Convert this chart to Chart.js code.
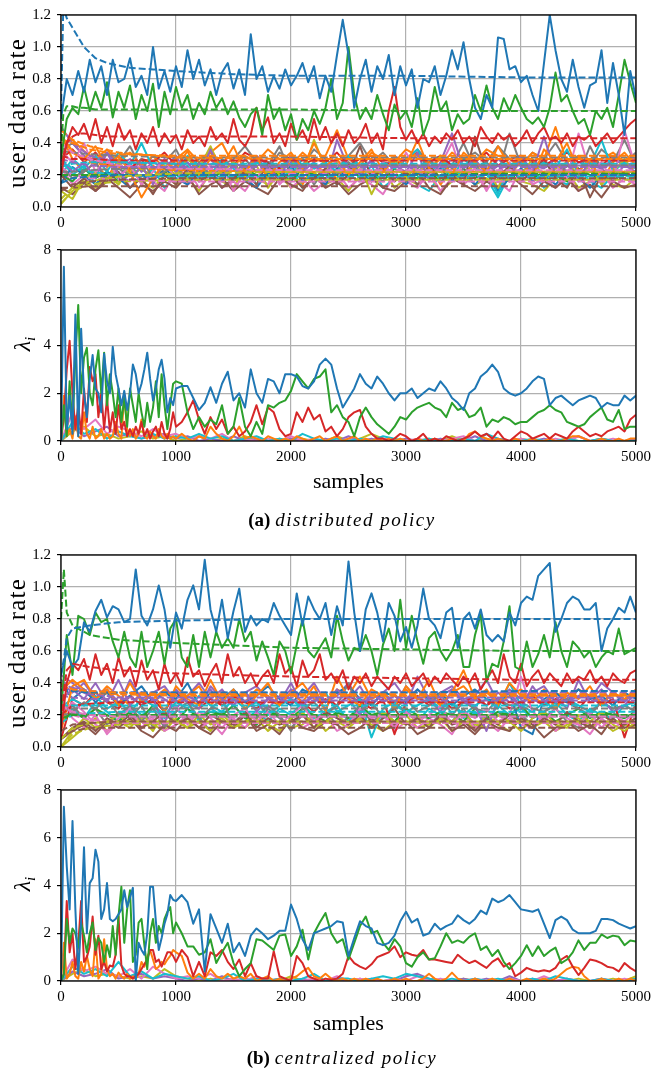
<!DOCTYPE html>
<html><head><meta charset="utf-8">
<script src="https://cdn.jsdelivr.net/npm/chart.js@4.4.0/dist/chart.umd.min.js"></script>
<style>
body{margin:0;background:#fff;width:665px;height:1070px;position:relative;overflow:hidden;font-family:"Liberation Serif",serif;color:#000}
.wrap{position:absolute;left:0;width:665px}
.yt{position:absolute;transform:translate(-50%,-50%) rotate(-90deg);white-space:nowrap;font-size:25px;line-height:1}
.yt.r{letter-spacing:1.2px}
.xt{position:absolute;left:0;width:697px;text-align:center;font-size:22px;line-height:24px}
.cap{position:absolute;left:0;width:684px;text-align:center;font-size:19px;line-height:22px}
.cap i{letter-spacing:1.5px}
</style></head><body>
<div class="wrap" style="top:0;height:235px"><canvas id="c1" width="665" height="235"></canvas></div>
<div class="wrap" style="top:235px;height:265px"><canvas id="c2" width="665" height="265"></canvas></div>
<div class="wrap" style="top:540px;height:235px"><canvas id="c3" width="665" height="235"></canvas></div>
<div class="wrap" style="top:775px;height:265px"><canvas id="c4" width="665" height="265"></canvas></div>
<div class="yt r" style="left:16px;top:113px">user data rate</div>
<div class="yt" style="left:24px;top:344px;font-size:24px"><i>λ</i><sub style="font-size:15px"><i>i</i></sub></div>
<div class="yt r" style="left:16px;top:653px">user data rate</div>
<div class="yt" style="left:24px;top:884px;font-size:24px"><i>λ</i><sub style="font-size:15px"><i>i</i></sub></div>
<div class="xt" style="top:469px">samples</div>
<div class="xt" style="top:1011px">samples</div>
<div class="cap" style="top:509px"><b>(a)</b> <i>distributed policy</i></div>
<div class="cap" style="top:1047px"><b>(b)</b> <i>centralized policy</i></div>
<script>
// ---------- axis ticks ----------
const X_TICKS = [0, 1000, 2000, 3000, 4000, 5000];
const RATE_TICKS = [0, 0.2, 0.4, 0.6, 0.8, 1.0, 1.2];
const LAMBDA_TICKS = [0, 2, 4, 6, 8];

// ---------- sample positions ----------
const X50 = Array.from({length: 101}, (_, i) => i * 50);
const X100 = Array.from({length: 51}, (_, i) => i * 100);
const XLAM = [...Array.from({length: 41}, (_, i) => i * 25), ...Array.from({length: 80}, (_, i) => 1050 + i * 50)];
const XAVG = [0, 100, 250, 500, 1000, 2000, 3000, 4000, 5000];

// ================= (a) distributed: user data rate =================
const rateD_blue = [0.55,0.80,0.70,0.85,0.72,0.92,0.78,0.88,0.70,0.92, 0.78,0.80,0.93,0.75,0.82,0.70,1.00,0.74,0.85,0.72, 0.88,0.75,0.98,0.80,0.92,0.76,0.86,0.70,0.84,0.90, 0.74,0.86,0.70,1.08,0.80,0.88,0.72,0.82,0.74,0.86, 0.76,0.82,0.90,0.78,0.88,0.68,0.82,0.72,0.95,1.17, 0.95,0.62,0.80,0.92,0.72,0.88,0.80,0.95,0.70,0.88, 0.76,0.86,0.62,0.80,0.78,0.88,0.70,0.82,0.98,0.86, 1.03,0.80,0.62,0.55,0.70,0.62,1.06,1.05,0.86,0.88, 0.78,0.82,0.70,0.60,0.90,1.20,0.98,0.80,0.72,0.92, 0.75,0.62,0.76,0.78,0.98,0.65,0.90,0.70,0.45,0.85, 0.68];
const rateD_green = [0.30,0.55,0.62,0.58,0.75,0.60,0.72,0.62,0.78,0.56, 0.72,0.62,0.76,0.55,0.70,0.60,0.77,0.50,0.72,0.58, 0.75,0.62,0.70,0.55,0.65,0.58,0.72,0.62,0.68,0.58, 0.66,0.56,0.50,0.58,0.62,0.45,0.70,0.55,0.62,0.48, 0.58,0.42,0.55,0.48,0.60,0.52,0.62,0.80,0.55,0.65, 1.00,0.70,0.55,0.62,0.55,0.70,0.58,0.48,0.64,0.55, 0.60,0.50,0.68,0.45,0.55,0.75,0.60,0.66,0.48,0.58, 0.52,0.55,0.70,0.60,0.76,0.62,0.55,0.68,0.60,0.70, 0.62,0.55,0.52,0.56,0.50,0.62,0.84,0.66,0.70,0.60, 0.52,0.55,0.45,0.60,0.55,0.62,0.50,0.70,0.92,0.78, 0.65];
const rateD_red = [0.20,0.40,0.50,0.45,0.52,0.42,0.55,0.40,0.50,0.38, 0.52,0.42,0.48,0.36,0.46,0.40,0.50,0.38,0.46,0.40, 0.45,0.36,0.48,0.40,0.44,0.38,0.50,0.42,0.46,0.40, 0.55,0.42,0.38,0.45,0.62,0.48,0.56,0.40,0.46,0.38, 0.52,0.42,0.48,0.40,0.55,0.42,0.50,0.40,0.46,0.38, 0.48,0.40,0.44,0.52,0.40,0.46,0.36,0.60,0.75,0.50, 0.42,0.48,0.40,0.46,0.38,0.44,0.40,0.46,0.42,0.48, 0.40,0.44,0.38,0.50,0.44,0.40,0.46,0.42,0.45,0.38, 0.42,0.48,0.40,0.46,0.50,0.42,0.44,0.40,0.46,0.38, 0.44,0.42,0.45,0.38,0.42,0.46,0.40,0.44,0.48,0.52, 0.55];
const avgD_mainX = [0,20,50,100,150,200,300,400,600,800,1000,1500,2000,3000,4000,5000];
const avgD_blue  = [0.60,1.25,1.18,1.12,1.06,1.00,0.93,0.90,0.87,0.86,0.85,0.83,0.82,0.82,0.81,0.81];
const avgD_green = [0.35,0.58,0.63,0.63,0.62,0.62,0.61,0.61,0.61,0.61,0.61,0.61,0.61,0.60,0.60,0.60];
const avgD_red   = [0.20,0.32,0.40,0.44,0.46,0.46,0.45,0.44,0.44,0.44,0.44,0.44,0.44,0.43,0.43,0.43];
// other users (every 100 samples)
const rateD_bg = [
 [0.45,0.35,0.30,0.38,0.25,0.32,0.22,0.06,0.18,0.28,0.24,0.35,0.20,0.30,0.26,0.38,0.22,0.32,0.18,0.28,0.34,0.24,0.40,0.26,0.30,0.20,0.28,0.36,0.22,0.30,0.26,0.42,0.24,0.30,0.20,0.34,0.28,0.22,0.38,0.26,0.30,0.18,0.36,0.28,0.40,0.22,0.30,0.16,0.28,0.34,0.26],
 [0.30,0.22,0.28,0.18,0.34,0.20,0.16,0.26,0.14,0.30,0.22,0.28,0.18,0.36,0.20,0.26,0.16,0.30,0.24,0.18,0.32,0.22,0.28,0.16,0.42,0.24,0.20,0.30,0.18,0.26,0.22,0.34,0.16,0.28,0.46,0.24,0.30,0.20,0.26,0.18,0.32,0.22,0.44,0.20,0.28,0.16,0.30,0.24,0.18,0.26,0.22],
 [0.20,0.12,0.18,0.10,0.16,0.22,0.12,0.18,0.08,0.20,0.14,0.24,0.16,0.20,0.12,0.18,0.22,0.14,0.28,0.16,0.20,0.12,0.18,0.24,0.14,0.20,0.38,0.18,0.24,0.16,0.22,0.14,0.26,0.18,0.20,0.14,0.44,0.22,0.18,0.26,0.16,0.22,0.30,0.18,0.12,0.24,0.06,0.20,0.16,0.22,0.18],
 [0.35,0.28,0.40,0.22,0.30,0.18,0.26,0.14,0.22,0.30,0.16,0.24,0.12,0.20,0.26,0.10,0.22,0.18,0.28,0.14,0.22,0.18,0.26,0.20,0.30,0.16,0.24,0.20,0.28,0.18,0.34,0.22,0.20,0.26,0.40,0.18,0.24,0.10,0.22,0.28,0.16,0.24,0.20,0.26,0.18,0.46,0.22,0.28,0.16,0.48,0.24],
 [0.25,0.18,0.22,0.28,0.16,0.24,0.20,0.30,0.18,0.22,0.26,0.16,0.28,0.20,0.24,0.18,0.30,0.22,0.26,0.38,0.20,0.26,0.14,0.24,0.20,0.28,0.22,0.18,0.26,0.20,0.16,0.24,0.30,0.22,0.26,0.40,0.24,0.28,0.20,0.46,0.26,0.22,0.30,0.18,0.26,0.20,0.38,0.24,0.28,0.42,0.26],
 [0.10,0.05,0.18,0.22,0.16,0.28,0.20,0.24,0.18,0.26,0.20,0.30,0.24,0.38,0.22,0.28,0.18,0.26,0.12,0.22,0.30,0.20,0.42,0.24,0.28,0.18,0.26,0.08,0.22,0.30,0.18,0.26,0.22,0.32,0.20,0.16,0.28,0.24,0.12,0.26,0.20,0.30,0.18,0.24,0.28,0.20,0.26,0.14,0.22,0.30,0.18],
 [0.20,0.30,0.24,0.32,0.22,0.34,0.26,0.40,0.24,0.28,0.22,0.32,0.26,0.20,0.30,0.24,0.16,0.28,0.22,0.26,0.20,0.30,0.24,0.28,0.22,0.32,0.26,0.20,0.28,0.24,0.30,0.36,0.22,0.26,0.18,0.30,0.24,0.22,0.08,0.26,0.30,0.22,0.28,0.24,0.36,0.20,0.26,0.42,0.22,0.28,0.24],
 [0.15,0.25,0.20,0.14,0.22,0.18,0.12,0.20,0.16,0.24,0.18,0.14,0.22,0.20,0.16,0.26,0.18,0.12,0.22,0.18,0.26,0.16,0.20,0.14,0.24,0.18,0.22,0.16,0.26,0.20,0.14,0.22,0.18,0.24,0.16,0.20,0.14,0.22,0.10,0.18,0.24,0.16,0.20,0.14,0.22,0.18,0.12,0.20,0.16,0.22,0.18],
 [0.40,0.42,0.35,0.30,0.36,0.28,0.34,0.26,0.32,0.24,0.30,0.36,0.28,0.34,0.40,0.26,0.32,0.28,0.36,0.30,0.26,0.34,0.28,0.32,0.48,0.30,0.26,0.34,0.30,0.28,0.36,0.32,0.28,0.26,0.34,0.30,0.28,0.36,0.32,0.30,0.26,0.34,0.30,0.50,0.28,0.32,0.26,0.30,0.34,0.28,0.30],
 [0.20,0.16,0.24,0.18,0.22,0.16,0.20,0.24,0.18,0.22,0.16,0.20,0.26,0.18,0.22,0.16,0.24,0.20,0.18,0.22,0.16,0.24,0.20,0.18,0.22,0.26,0.18,0.20,0.16,0.24,0.20,0.18,0.22,0.16,0.20,0.24,0.18,0.22,0.20,0.16,0.24,0.18,0.22,0.20,0.16,0.24,0.20,0.18,0.22,0.20,0.18],
 [0.30,0.36,0.28,0.34,0.26,0.32,0.24,0.30,0.28,0.34,0.26,0.30,0.24,0.32,0.28,0.26,0.34,0.30,0.28,0.24,0.32,0.26,0.30,0.28,0.34,0.26,0.30,0.32,0.28,0.26,0.30,0.34,0.28,0.32,0.26,0.30,0.28,0.34,0.26,0.30,0.32,0.28,0.26,0.30,0.34,0.28,0.30,0.26,0.32,0.28,0.30],
 [0.50,0.40,0.32,0.28,0.34,0.26,0.30,0.22,0.28,0.24,0.32,0.20,0.26,0.30,0.22,0.28,0.24,0.32,0.26,0.22,0.28,0.30,0.24,0.26,0.22,0.30,0.26,0.28,0.24,0.32,0.26,0.22,0.28,0.24,0.30,0.26,0.28,0.22,0.30,0.24,0.28,0.26,0.24,0.30,0.22,0.28,0.26,0.24,0.30,0.26,0.28],
 [0.12,0.08,0.15,0.10,0.18,0.12,0.06,0.14,0.10,0.16,0.12,0.20,0.08,0.14,0.18,0.10,0.16,0.12,0.08,0.18,0.14,0.10,0.20,0.12,0.16,0.08,0.14,0.18,0.12,0.10,0.16,0.22,0.12,0.08,0.18,0.14,0.10,0.16,0.12,0.20,0.14,0.08,0.16,0.12,0.18,0.10,0.14,0.06,0.16,0.12,0.14],
 [0.25,0.14,0.20,0.10,0.18,0.26,0.12,0.20,0.16,0.10,0.22,0.14,0.18,0.26,0.12,0.16,0.10,0.20,0.14,0.24,0.12,0.18,0.10,0.16,0.22,0.12,0.18,0.14,0.08,0.20,0.16,0.12,0.22,0.10,0.18,0.14,0.20,0.12,0.16,0.10,0.24,0.14,0.18,0.12,0.20,0.10,0.16,0.22,0.12,0.18,0.14],
 [0.02,0.10,0.16,0.12,0.20,0.14,0.24,0.16,0.12,0.20,0.14,0.18,0.10,0.22,0.16,0.12,0.24,0.18,0.14,0.20,0.12,0.16,0.22,0.14,0.18,0.10,0.20,0.16,0.24,0.12,0.18,0.14,0.20,0.10,0.16,0.22,0.14,0.18,0.12,0.20,0.16,0.14,0.10,0.18,0.22,0.12,0.16,0.20,0.14,0.12,0.18],
 [0.30,0.20,0.26,0.14,0.22,0.18,0.28,0.16,0.24,0.12,0.20,0.26,0.16,0.22,0.12,0.18,0.26,0.14,0.20,0.16,0.24,0.12,0.18,0.22,0.14,0.20,0.16,0.26,0.12,0.18,0.22,0.14,0.10,0.20,0.16,0.24,0.14,0.18,0.06,0.20,0.16,0.22,0.12,0.18,0.14,0.24,0.16,0.12,0.20,0.18,0.16],
 [0.35,0.40,0.32,0.26,0.34,0.28,0.38,0.24,0.32,0.28,0.36,0.22,0.30,0.34,0.26,0.30,0.38,0.28,0.24,0.34,0.30,0.26,0.36,0.30,0.24,0.32,0.40,0.28,0.34,0.26,0.30,0.36,0.28,0.32,0.24,0.30,0.34,0.28,0.38,0.30,0.26,0.34,0.30,0.40,0.28,0.32,0.26,0.36,0.30,0.28,0.34],
 [0.45,0.30,0.22,0.28,0.18,0.30,0.24,0.16,0.26,0.20,0.30,0.14,0.24,0.20,0.28,0.16,0.22,0.30,0.18,0.24,0.20,0.14,0.26,0.22,0.18,0.28,0.20,0.16,0.24,0.30,0.18,0.22,0.26,0.14,0.24,0.20,0.28,0.16,0.22,0.18,0.30,0.20,0.16,0.26,0.22,0.18,0.28,0.14,0.24,0.20,0.26]
];
const rateD_bgAvg = [
 [0.48,0.42,0.38,0.34,0.31,0.30,0.30,0.30,0.30],
 [0.30,0.28,0.26,0.25,0.25,0.25,0.25,0.25,0.25],
 [0.10,0.14,0.16,0.17,0.18,0.18,0.18,0.18,0.18],
 [0.40,0.34,0.30,0.26,0.24,0.23,0.23,0.23,0.23],
 [0.22,0.22,0.23,0.24,0.25,0.26,0.26,0.26,0.26],
 [0.05,0.12,0.16,0.19,0.21,0.22,0.22,0.22,0.22],
 [0.25,0.27,0.28,0.28,0.27,0.27,0.27,0.27,0.27],
 [0.15,0.18,0.19,0.20,0.20,0.20,0.20,0.20,0.20],
 [0.42,0.40,0.36,0.33,0.32,0.32,0.32,0.32,0.32],
 [0.20,0.20,0.20,0.20,0.20,0.20,0.20,0.21,0.21],
 [0.32,0.30,0.30,0.29,0.29,0.29,0.29,0.29,0.29],
 [0.50,0.40,0.32,0.28,0.27,0.26,0.26,0.26,0.26],
 [0.12,0.12,0.13,0.13,0.13,0.13,0.13,0.13,0.13],
 [0.25,0.20,0.18,0.17,0.16,0.16,0.16,0.16,0.16],
 [0.02,0.10,0.14,0.16,0.17,0.17,0.17,0.17,0.17],
 [0.30,0.24,0.22,0.20,0.19,0.19,0.19,0.19,0.19],
 [0.35,0.34,0.33,0.32,0.31,0.31,0.31,0.31,0.31],
 [0.45,0.34,0.28,0.25,0.23,0.22,0.22,0.22,0.22]
];

// ================= (a) distributed: lambda =================
const lamD_blue = [0,7.3,0.5,1.9,0.3,5.3,0.2,4.7,2.0,1.0,2.6,3.6,2.2,2.0,1.2,3.65,2.5,2.0,3.95,2.8,2.2,1.5,2.1,1.3,2.0,3.2,2.8,2.0,2.4,3.0,3.7,2.6,1.7,2.2,3.0,3.4,2.6,1.2,1.8,1.5,2.2,
 2.3,2.3,1.8,1.3,1.6,2.25,1.6,2.4,2.9,1.7, 2.0,1.4,3.0,2.0,1.6,2.6,2.5,2.0,2.8,2.8, 2.7,2.3,2.2,2.5,3.2,3.45,3.2,2.2,1.4,1.8, 2.2,2.8,2.4,2.2,2.7,2.4,2.0,1.7,2.0,2.0, 2.2,1.8,2.0,2.2,2.1,2.5,2.2,1.8,1.6,1.3, 2.0,2.2,2.7,2.9,3.2,2.9,2.2,2.0,1.9,2.0, 2.2,2.5,2.7,2.6,1.5,1.8,1.9,1.7,1.5,1.7, 1.8,1.9,1.8,1.4,1.6,1.5,1.5,1.9,1.7,1.9];
const lamD_green = [0,1.5,0.2,2.5,0.5,3.5,5.7,2.0,3.5,3.9,2.0,1.5,3.0,3.8,2.0,3.7,1.5,2.8,2.0,1.0,2.2,0.8,1.8,0.6,2.2,1.5,0.8,2.0,1.2,0.6,1.6,0.8,1.4,2.5,1.0,2.8,1.5,0.5,1.5,2.4,2.5,
 2.4,1.2,0.5,1.0,0.6,0.9,0.7,1.5,0.3,0.6, 1.8,0.6,0.2,0.8,0.3,1.5,1.4,1.6,1.7,2.1, 2.8,2.5,2.2,2.6,2.7,3.0,1.2,1.5,1.0,0.8, 0.2,1.0,1.4,1.0,0.7,0.5,0.3,0.6,1.0,0.9, 1.2,1.4,1.5,1.6,1.4,1.3,1.0,1.6,1.3,1.4, 1.0,1.1,1.4,0.6,0.9,0.8,1.0,0.9,0.7,0.8, 0.8,1.0,1.2,1.3,1.5,1.3,1.2,0.8,0.7,0.6, 0.7,1.0,1.2,1.4,0.9,0.8,1.3,0.5,0.6,0.6];
const lamD_red = [0,1.0,3.0,4.2,2.0,0.5,1.5,0.3,2.2,0.8,3.1,2.5,2.8,1.0,2.0,0.5,1.8,0.4,1.2,0.3,1.5,0.5,0.8,0.2,0.5,0.2,0.6,0.3,0.8,0.2,0.5,0.1,0.4,0.6,0.2,0.8,0.3,0.1,0.5,1.2,0.6,
 0.8,1.2,1.7,0.9,0.3,1.0,0.5,0.9,0.3,0.6, 0.2,0.4,0.8,1.5,0.7,1.4,1.2,0.5,0.2,0.3, 1.2,0.8,1.4,0.9,1.1,0.4,0.6,0.2,0.5,1.0, 1.2,1.3,0.6,0.3,0.1,0.1,0.0,0.1,0.3,0.2, 0.0,0.1,0.3,0.0,0.1,0.0,0.2,0.1,0.0,0.1, 0.2,0.4,0.2,0.3,0.1,0.4,0.1,0.0,0.2,0.4, 0.3,0.1,0.2,0.3,0.1,0.3,0.2,0.1,0.4,0.6, 0.4,0.2,0.3,0.2,0.4,0.5,0.6,0.4,0.9,1.1];
const lamD_orange = [0,1.9,0.2,0.5,0.1,1.0,0.2,0.1,1.2,0.3,0.1,0.6,0.1,0.2,0.5,0.1,0.3,0.1,0.2,0.8,0.3,0.1,2.0,0.5,0.2,0.5,0.1,0.3,0.9,0.2,0.1,0.4,0.2,0.1,0.5,0.2,0.1,0.3,0.1,0.2,0.1,
 0.3,0.1,0.0,0.2,0.1,0.6,0.3,0.1,0.0,0.2, 0.6,0.1,0.2,0.1,0.0,0.2,0.1,0.0,0.1,0.0, 0.2,0.1,0.0,0.1,0.2,0.0,0.1,0.2,0.0,0.1, 0.2,0.0,0.1,0.0,0.1,0.0,0.1,0.0,0.1,0.0, 0.0,0.1,0.0,0.0,0.1,0.0,0.0,0.1,0.0,0.0, 0.3,0.4,0.2,0.1,0.0,0.1,0.0,0.0,0.1,0.0, 0.0,0.1,0.0,0.0,0.1,0.0,0.0,0.1,0.2,0.2, 0.1,0.0,0.0,0.1,0.0,0.0,0.1,0.0,0.1,0.1];
const lamD_small = [
 [0,0.8,0.3,0.5,0.1,0.4,0.2,0.1,0.3,0.1,0.2,0.1,0.3,0.1,0.2,0,0.1,0.2,0,0.1,0,0.3,0.1,0,0.1,0,0.1,0,0.2,0.1,0,0,0.1,0,0,0.1,0,0.3,0.1,0,0,0.1,0,0,0.1,0,0,0.1,0,0,0],
 [0,1.2,0.5,0.9,0.3,0.6,0.4,0.2,0.5,0.2,0.3,0.1,0.2,0.1,0.3,0,0.1,0,0.1,0,0.2,0,0.1,0,0,0.1,0,0,0.1,0,0,0.1,0,0,0.1,0.2,0,0.3,0,0,0.1,0,0,0.1,0,0.2,0,0,0.1,0,0],
 [0,0.6,0.2,0.4,0.6,0.2,0.3,0.1,0.2,0.3,0.1,0.2,0,0.1,0,0.2,0,0.1,0,0,0.1,0,0,0.1,0,0.2,0,0.1,0,0,0.1,0,0,0.1,0,0,0.2,0,0.1,0,0,0,0.1,0,0,0.2,0,0.1,0,0,0.1],
 [0,0.4,0.6,0.2,0.3,0.1,0.2,0.4,0.1,0.2,0,0.1,0.2,0,0.1,0,0.2,0,0,0.1,0,0.1,0,0,0.2,0,0.1,0.3,0.1,0,0,0,0.1,0,0.2,0,0,0.1,0,0,0.1,0,0,0,0.1,0,0,0.1,0,0,0.1]
];

// ================= (b) centralized: user data rate =================
const rateC_blue = [0.45,0.60,0.50,0.55,0.78,0.72,0.85,0.92,0.81,0.88, 0.86,0.78,0.80,1.11,0.82,0.76,0.86,1.01,0.86,0.62, 0.84,0.74,0.92,1.01,0.86,1.17,0.86,0.72,0.92,0.68, 0.85,0.99,0.72,0.82,0.76,0.80,0.78,0.90,0.82,0.76, 0.70,0.96,0.76,0.94,0.86,0.80,0.90,0.70,0.88,0.76, 1.16,0.84,0.60,0.86,0.96,0.84,0.66,0.90,0.82,0.66, 0.75,0.62,0.76,0.99,0.80,0.76,0.68,0.84,0.87,0.62, 0.80,0.84,0.74,0.86,0.70,0.66,0.70,0.66,0.84,0.76, 0.90,0.94,0.92,1.07,1.11,1.15,0.72,0.80,0.90,0.94, 0.92,0.86,0.86,0.90,0.60,0.74,0.80,0.87,0.84,0.94, 0.84];
const rateC_green = [0.20,0.70,0.45,0.82,0.80,0.70,0.84,0.78,0.80,0.66, 0.56,0.72,0.56,0.50,0.72,0.50,0.60,0.72,0.52,0.74, 0.80,0.56,0.50,0.70,0.50,0.72,0.56,0.72,0.62,0.68, 0.62,0.80,0.66,0.72,0.54,0.66,0.56,0.45,0.66,0.60, 0.46,0.64,0.80,0.60,0.56,0.62,0.68,0.56,0.82,0.66, 0.54,0.62,0.60,0.70,0.60,0.45,0.64,0.74,0.60,0.92, 0.62,0.82,0.66,0.52,0.68,0.72,0.60,0.54,0.60,0.70, 0.50,0.50,0.70,0.83,0.41,0.52,0.50,0.66,0.88,0.50, 0.48,0.66,0.50,0.58,0.70,0.56,0.78,0.60,0.50,0.66, 0.62,0.56,0.60,0.50,0.56,0.60,0.58,0.74,0.58,0.60, 0.62];
const rateC_red = [0.10,0.40,0.52,0.48,0.55,0.42,0.58,0.45,0.52,0.40, 0.56,0.44,0.50,0.38,0.54,0.42,0.48,0.36,0.52,0.40, 0.46,0.38,0.56,0.44,0.48,0.38,0.46,0.52,0.40,0.58, 0.44,0.50,0.40,0.46,0.38,0.44,0.48,0.40,0.58,0.46, 0.50,0.38,0.54,0.44,0.48,0.58,0.42,0.46,0.40,0.48, 0.36,0.44,0.40,0.46,0.38,0.44,0.40,0.36,0.44,0.40, 0.46,0.38,0.42,0.46,0.38,0.44,0.40,0.46,0.42,0.38, 0.44,0.40,0.46,0.36,0.42,0.48,0.40,0.58,0.44,0.40, 0.52,0.38,0.44,0.48,0.40,0.46,0.42,0.38,0.46,0.40, 0.44,0.42,0.48,0.40,0.44,0.38,0.46,0.42,0.40,0.46, 0.48];
const avgC_mainX = [0,25,50,100,250,500,1000,2000,3000,4000,5000];
const avgC_blue  = [0.45,0.55,0.68,0.74,0.76,0.78,0.79,0.80,0.80,0.80,0.80];
const avgC_green = [0.80,1.11,0.84,0.76,0.70,0.67,0.65,0.62,0.61,0.60,0.60];
const avgC_red   = [0.10,0.35,0.48,0.52,0.50,0.48,0.46,0.44,0.43,0.42,0.42];
const rateC_bg = [
 [0.10,0.38,0.42,0.30,0.36,0.26,0.40,0.28,0.34,0.22,0.38,0.30,0.26,0.42,0.28,0.36,0.24,0.32,0.40,0.26,0.34,0.28,0.38,0.22,0.44,0.30,0.26,0.36,0.32,0.24,0.38,0.30,0.42,0.26,0.34,0.48,0.30,0.36,0.26,0.40,0.32,0.28,0.36,0.24,0.34,0.30,0.38,0.26,0.34,0.30,0.36],
 [0.30,0.36,0.30,0.40,0.28,0.42,0.26,0.34,0.30,0.14,0.36,0.28,0.24,0.38,0.30,0.26,0.34,0.22,0.30,0.28,0.40,0.26,0.32,0.24,0.36,0.30,0.20,0.34,0.28,0.32,0.26,0.44,0.30,0.22,0.36,0.28,0.26,0.10,0.30,0.34,0.24,0.38,0.28,0.32,0.24,0.42,0.28,0.30,0.22,0.26,0.34],
 [0.05,0.12,0.16,0.10,0.18,0.14,0.20,0.12,0.16,0.22,0.14,0.18,0.12,0.20,0.16,0.14,0.22,0.12,0.18,0.14,0.16,0.20,0.12,0.22,0.18,0.14,0.20,0.12,0.18,0.24,0.14,0.18,0.12,0.20,0.14,0.16,0.10,0.18,0.14,0.20,0.16,0.12,0.18,0.14,0.22,0.16,0.12,0.20,0.16,0.14,0.18],
 [0.20,0.28,0.22,0.14,0.10,0.18,0.24,0.12,0.20,0.16,0.26,0.14,0.22,0.18,0.12,0.20,0.24,0.16,0.22,0.14,0.20,0.26,0.16,0.22,0.18,0.14,0.24,0.18,0.20,0.12,0.22,0.16,0.20,0.26,0.14,0.22,0.18,0.24,0.16,0.20,0.44,0.22,0.16,0.24,0.18,0.14,0.22,0.12,0.20,0.16,0.22],
 [0.25,0.22,0.28,0.24,0.30,0.20,0.26,0.16,0.24,0.12,0.22,0.28,0.18,0.24,0.30,0.14,0.22,0.18,0.26,0.20,0.10,0.24,0.28,0.20,0.26,0.40,0.22,0.28,0.18,0.24,0.30,0.22,0.26,0.34,0.20,0.28,0.24,0.22,0.30,0.26,0.28,0.24,0.22,0.26,0.30,0.24,0.20,0.28,0.24,0.26,0.22],
 [0.00,0.10,0.18,0.12,0.16,0.20,0.14,0.18,0.10,0.22,0.16,0.12,0.20,0.14,0.18,0.12,0.16,0.20,0.14,0.10,0.18,0.22,0.12,0.16,0.20,0.14,0.18,0.12,0.22,0.16,0.14,0.20,0.12,0.18,0.16,0.22,0.14,0.12,0.20,0.16,0.10,0.18,0.22,0.14,0.12,0.20,0.16,0.22,0.14,0.10,0.16],
 [0.25,0.30,0.26,0.32,0.24,0.28,0.22,0.30,0.26,0.20,0.28,0.24,0.32,0.26,0.22,0.30,0.24,0.28,0.20,0.26,0.30,0.24,0.28,0.34,0.22,0.26,0.30,0.06,0.24,0.28,0.22,0.26,0.30,0.24,0.28,0.20,0.26,0.30,0.24,0.40,0.26,0.22,0.28,0.24,0.30,0.26,0.22,0.28,0.24,0.26,0.28],
 [0.40,0.30,0.36,0.28,0.34,0.26,0.32,0.38,0.28,0.34,0.30,0.40,0.26,0.34,0.30,0.36,0.28,0.32,0.38,0.30,0.26,0.36,0.32,0.28,0.34,0.38,0.30,0.26,0.34,0.32,0.28,0.36,0.30,0.34,0.26,0.32,0.36,0.30,0.28,0.34,0.12,0.08,0.30,0.34,0.28,0.36,0.30,0.32,0.26,0.34,0.30],
 [0.35,0.42,0.36,0.30,0.38,0.32,0.26,0.34,0.30,0.36,0.28,0.32,0.38,0.26,0.34,0.30,0.28,0.36,0.32,0.26,0.34,0.40,0.30,0.28,0.36,0.32,0.44,0.30,0.34,0.28,0.36,0.30,0.32,0.26,0.34,0.38,0.30,0.34,0.28,0.32,0.36,0.30,0.28,0.34,0.30,0.36,0.32,0.28,0.34,0.30,0.32],
 [0.15,0.22,0.18,0.24,0.20,0.16,0.22,0.18,0.26,0.20,0.16,0.24,0.18,0.22,0.20,0.26,0.18,0.14,0.22,0.20,0.18,0.24,0.20,0.16,0.22,0.18,0.26,0.20,0.22,0.16,0.24,0.20,0.18,0.22,0.20,0.16,0.24,0.18,0.22,0.20,0.26,0.18,0.22,0.16,0.20,0.24,0.18,0.22,0.20,0.18,0.22],
 [0.05,0.30,0.26,0.34,0.28,0.24,0.32,0.26,0.30,0.22,0.34,0.28,0.24,0.30,0.26,0.32,0.28,0.24,0.30,0.26,0.34,0.28,0.22,0.30,0.26,0.32,0.28,0.24,0.30,0.08,0.28,0.32,0.26,0.30,0.24,0.28,0.32,0.26,0.30,0.24,0.28,0.32,0.26,0.30,0.28,0.24,0.32,0.26,0.30,0.06,0.28],
 [0.45,0.40,0.34,0.30,0.36,0.28,0.32,0.26,0.34,0.30,0.24,0.32,0.28,0.36,0.26,0.30,0.34,0.28,0.24,0.32,0.30,0.26,0.34,0.28,0.32,0.40,0.28,0.30,0.34,0.26,0.38,0.30,0.28,0.32,0.36,0.28,0.30,0.26,0.34,0.28,0.32,0.30,0.26,0.34,0.28,0.32,0.30,0.36,0.28,0.30,0.32],
 [0.05,0.10,0.14,0.08,0.16,0.12,0.18,0.10,0.06,0.14,0.10,0.18,0.12,0.08,0.16,0.12,0.20,0.10,0.14,0.08,0.18,0.12,0.10,0.16,0.14,0.08,0.12,0.18,0.10,0.14,0.16,0.08,0.12,0.20,0.10,0.14,0.08,0.16,0.12,0.10,0.18,0.14,0.06,0.12,0.16,0.10,0.14,0.08,0.18,0.12,0.14],
 [0.30,0.18,0.12,0.20,0.08,0.16,0.22,0.12,0.18,0.10,0.14,0.20,0.12,0.16,0.08,0.18,0.12,0.22,0.14,0.10,0.18,0.12,0.16,0.20,0.10,0.14,0.18,0.12,0.22,0.10,0.16,0.12,0.18,0.14,0.08,0.20,0.12,0.16,0.10,0.18,0.14,0.12,0.20,0.10,0.16,0.14,0.08,0.18,0.12,0.16,0.14],
 [0.00,0.06,0.12,0.18,0.10,0.16,0.12,0.20,0.14,0.10,0.18,0.12,0.16,0.10,0.20,0.14,0.12,0.18,0.10,0.16,0.12,0.14,0.20,0.10,0.16,0.12,0.18,0.14,0.10,0.16,0.20,0.12,0.14,0.18,0.10,0.16,0.12,0.20,0.14,0.10,0.18,0.12,0.16,0.10,0.14,0.18,0.12,0.16,0.10,0.14,0.12],
 [0.20,0.26,0.18,0.24,0.14,0.22,0.18,0.26,0.12,0.20,0.16,0.24,0.18,0.10,0.22,0.16,0.20,0.14,0.24,0.18,0.12,0.20,0.16,0.22,0.14,0.18,0.24,0.16,0.20,0.12,0.22,0.18,0.14,0.20,0.16,0.24,0.12,0.18,0.22,0.16,0.20,0.14,0.18,0.24,0.16,0.12,0.20,0.18,0.22,0.14,0.18],
 [0.40,0.34,0.40,0.30,0.36,0.26,0.42,0.30,0.34,0.38,0.28,0.32,0.40,0.30,0.36,0.26,0.34,0.38,0.30,0.28,0.36,0.32,0.40,0.28,0.34,0.30,0.38,0.26,0.34,0.40,0.30,0.36,0.28,0.34,0.38,0.30,0.32,0.42,0.28,0.36,0.30,0.34,0.38,0.28,0.32,0.36,0.30,0.40,0.34,0.28,0.36],
 [0.15,0.24,0.18,0.28,0.22,0.16,0.26,0.20,0.24,0.18,0.22,0.28,0.16,0.24,0.20,0.26,0.18,0.22,0.16,0.24,0.20,0.28,0.18,0.22,0.26,0.16,0.24,0.20,0.18,0.26,0.22,0.16,0.24,0.20,0.28,0.18,0.22,0.16,0.26,0.20,0.24,0.18,0.22,0.28,0.20,0.16,0.24,0.20,0.18,0.26,0.22]
];
const rateC_bgAvg = [
 [0.40,0.36,0.35,0.34,0.33,0.33,0.33,0.33,0.33],
 [0.32,0.31,0.30,0.30,0.29,0.29,0.29,0.29,0.29],
 [0.10,0.14,0.15,0.16,0.16,0.16,0.16,0.16,0.16],
 [0.26,0.22,0.20,0.19,0.19,0.19,0.19,0.19,0.19],
 [0.24,0.24,0.24,0.24,0.24,0.24,0.24,0.24,0.24],
 [0.05,0.12,0.15,0.16,0.16,0.16,0.16,0.16,0.16],
 [0.26,0.26,0.26,0.26,0.26,0.26,0.26,0.26,0.26],
 [0.36,0.35,0.34,0.34,0.34,0.34,0.34,0.35,0.35],
 [0.38,0.36,0.34,0.33,0.32,0.32,0.32,0.32,0.32],
 [0.18,0.20,0.20,0.20,0.20,0.20,0.20,0.20,0.20],
 [0.20,0.26,0.27,0.28,0.28,0.28,0.28,0.28,0.28],
 [0.42,0.36,0.33,0.31,0.31,0.31,0.31,0.31,0.31],
 [0.05,0.10,0.12,0.12,0.12,0.12,0.12,0.12,0.12],
 [0.30,0.20,0.17,0.15,0.15,0.15,0.15,0.15,0.15],
 [0.00,0.08,0.12,0.14,0.15,0.15,0.15,0.15,0.15],
 [0.20,0.21,0.20,0.19,0.19,0.19,0.19,0.19,0.19],
 [0.40,0.37,0.35,0.34,0.34,0.34,0.34,0.34,0.34],
 [0.15,0.20,0.21,0.22,0.22,0.22,0.22,0.22,0.22]
];

// ================= (b) centralized: lambda =================
const lamC_blue = [0.0,7.3,4.8,3.0,6.7,3.0,0.3,2.5,5.6,2.0,4.1,4.3,5.5,5.0,2.6,3.0,4.1,2.6,2.5,2.6,2.8,3.0,3.8,3.1,3.5,3.9,0.0,1.6,1.3,1.1,2.0,3.95,3.95,2.5,1.3,1.8,2.4,2.8,3.6,3.4,3.35,
 3.6,3.3,2.4,3.0,0.4,2.8,2.2,1.6,2.4,1.2, 1.6,1.05,1.9,2.2,2.0,1.75,1.9,2.1,2.1,3.2, 2.6,1.75,1.3,2.0,2.1,2.2,2.3,2.5,2.45,1.05, 1.8,2.5,2.3,2.2,1.6,1.5,1.6,1.9,2.5,2.9, 2.45,2.6,1.9,2.0,2.4,2.15,2.3,2.4,2.75,2.55, 2.4,2.6,2.95,2.8,3.45,3.3,3.4,3.6,3.3,3.0, 2.95,2.9,3.0,2.4,1.8,2.55,2.7,2.55,2.15,2.0, 2.0,2.0,2.1,2.6,2.6,2.55,2.4,2.3,2.2,2.3];
const lamC_green = [0.0,0.3,2.6,1.6,2.2,2.0,1.4,2.45,1.9,1.2,2.0,2.45,1.3,1.8,1.6,0.8,1.5,1.0,2.3,1.1,2.7,3.95,1.6,3.0,3.8,0.8,1.1,2.45,2.6,1.5,0.5,2.0,2.6,1.6,2.3,2.0,2.6,2.9,3.1,2.0,2.45,
 2.0,1.45,1.45,1.1,1.2,1.75,0.75,1.2,1.6,0.75, 0.2,0.5,0.75,1.75,1.7,1.5,1.3,1.9,1.95,1.05, 1.45,2.15,0.9,2.0,2.45,2.85,2.0,1.6,1.75,0.9, 1.6,2.3,2.7,2.0,2.1,1.6,1.3,1.75,1.45,0.75, 0.6,1.0,1.2,0.9,0.95,1.45,2.0,1.6,1.7,1.6, 1.85,2.0,1.3,1.45,1.05,1.3,0.8,0.5,0.75,1.05, 1.5,1.05,1.45,1.05,1.25,1.4,0.75,0.9,1.2,1.7, 1.3,1.6,1.6,1.95,1.8,1.9,1.85,1.5,1.7,1.65];
const lamC_red = [0.0,0.3,3.35,1.2,2.0,0.5,1.5,3.35,0.8,1.0,1.45,2.7,1.1,1.9,0.5,0.8,0.4,0.65,0.6,1.1,2.7,0.65,0.3,0.2,0.2,0.1,0.2,0.3,0.5,0.7,0.9,1.3,1.3,0.8,0.9,0.6,0.9,1.2,1.2,1.05,0.8,
 1.3,1.0,0.2,0.8,0.2,1.2,1.05,1.3,0.8,0.5, 0.9,0.2,0.75,0.2,0.1,0.1,1.25,0.2,0.1,0.0, 1.05,0.75,0.2,0.1,0.0,0.1,0.05,0.1,0.3,1.05, 0.75,0.6,0.5,0.7,1.0,1.1,1.2,1.45,1.0,1.2, 1.1,1.05,1.3,0.9,0.9,0.85,0.8,0.75,1.1,0.9, 0.75,0.85,0.7,0.55,0.8,0.95,0.6,0.75,0.2,0.35, 0.55,0.45,0.4,0.45,0.4,0.55,0.9,1.05,0.6,0.25, 0.55,0.9,0.85,0.75,0.6,0.55,0.4,0.75,0.55,0.4];
const lamC_orange = [0.0,1.6,0.1,0.3,0.8,0.2,0.1,0.8,0.4,1.05,0.5,0.2,1.75,0.1,0.3,1.75,0.5,0.2,0.3,0.1,0.35,0.2,0.1,0.3,0.1,0.2,0.1,0.3,0.8,0.6,1.0,1.3,0.9,0.5,0.6,0.8,0.7,0.9,1.05,1.3,1.2,
 1.05,0.35,0.1,0.3,0.1,0.5,0.2,0.1,0.3,0.1, 0.2,0.1,0.3,0.0,0.1,0.2,0.0,0.1,0.0,0.1, 0.2,0.4,0.55,0.2,0.1,0.3,0.1,0.0,0.1,0.0, 0.1,0.0,0.1,0.0,0.1,0.0,0.0,0.1,0.0,0.1, 0.0,0.0,0.1,0.3,0.1,0.0,0.1,0.35,0.1,0.0, 0.0,0.1,0.0,0.0,0.1,0.0,0.0,0.1,0.0,0.0, 0.1,0.0,0.0,0.1,0.0,0.1,0.3,0.5,0.6,0.55, 0.2,0.0,0.0,0.1,0.0,0.0,0.1,0.0,0.1,0.0];
const lamC_small = [
 [0,0.6,0.3,0.5,0.2,0.8,0.2,0.4,0.1,0.3,0.2,0.1,0.2,0,0.1,0.3,0,0.1,0,0.1,0,0.1,0.3,0,0.1,0.1,0,0.1,0.2,0.1,0.3,0.2,0.1,0,0.1,0,0.1,0,0.1,0,0,0.1,0,0.2,0.1,0,0,0.1,0,0,0.1],
 [0,0.9,0.4,0.6,0.3,0.2,0.5,0.1,0.6,0.3,0.1,0.2,0.1,0.3,0,0.1,0,0.2,0,0.1,0,0,0.1,0,0.2,0,0.1,0,0,0.1,0,0.2,0,0.1,0,0,0.1,0,0,0.1,0,0,0.2,0,0.1,0,0,0.1,0,0.1,0],
 [0,0.4,0.2,0.3,0.5,0.1,0.2,0.3,0.1,0.2,0.1,0,0.1,0,0.2,0,0.1,0,0,0.1,0,0.1,0,0,0.1,0,0,0.1,0,0,0.2,0.3,0.1,0,0,0.1,0,0.1,0,0.2,0,0.1,0,0,0.1,0,0,0.1,0,0,0.1],
 [0,0.3,0.5,0.2,0.3,0.2,0.1,0.2,0.1,0.5,0.2,0.1,0,0.1,0,0.1,0,0,0.1,0,0.2,0,0.1,0,0,0,0.1,0,0,0.1,0,0,0.1,0,0,0.1,0,0,0,0.1,0,0,0.1,0,0,0.1,0,0,0.1,0,0.2]
];

// ---------- colours (matplotlib tab10) ----------
const C = {blue:'#1f77b4', orange:'#ff7f0e', green:'#2ca02c', red:'#d62728', purple:'#9467bd', brown:'#8c564b', pink:'#e377c2', gray:'#7f7f7f', olive:'#bcbd22', cyan:'#17becf'};
const BG_COLORS_D = [C.orange, C.purple, C.brown, C.pink, C.gray, C.olive, C.cyan, C.blue, C.orange, C.green, C.red, C.purple, C.brown, C.pink, C.olive, C.cyan, C.gray, C.orange];
const BG_COLORS_C = [C.orange, C.purple, C.brown, C.pink, C.gray, C.olive, C.cyan, C.blue, C.orange, C.green, C.red, C.purple, C.brown, C.pink, C.olive, C.gray, C.purple, C.cyan];
const SMALL_COLORS = [C.cyan, C.pink, C.purple, C.olive];

function pts(xs, ys){ return ys.map((y, i) => ({x: xs[i], y})); }
function line(xs, ys, color, dashed, w){
  return {data: pts(xs, ys), borderColor: color, borderWidth: w || 2, borderDash: dashed ? [7, 3] : [],
          pointRadius: 0, fill: false, tension: 0, borderJoinStyle: 'round', borderCapStyle: 'butt'};
}

const framePlugin = {
  id: 'frame',
  afterDatasetsDraw(chart){
    const a = chart.chartArea, ctx = chart.ctx;
    ctx.save(); ctx.strokeStyle = '#000'; ctx.lineWidth = 1.3;
    ctx.strokeRect(a.left, a.top, a.right - a.left, a.bottom - a.top);
    ctx.restore();
  }
};

function makeChart(id, datasets, yTicks, yFmt, padTop, xAxisH){
  const font = {family: 'Liberation Serif', size: 15};
  return new Chart(document.getElementById(id), {
    type: 'line',
    data: {datasets},
    options: {
      responsive: false, animation: false, devicePixelRatio: 1,
      layout: {padding: {top: padTop, right: 29, left: 0, bottom: 0}},
      plugins: {legend: {display: false}, tooltip: {enabled: false}},
      scales: {
        x: {type: 'linear', min: 0, max: 5000,
            afterBuildTicks: s => { s.ticks = X_TICKS.map(v => ({value: v})); },
            afterFit: s => { s.height = xAxisH; },
            ticks: {callback: v => String(v), color: '#000', font, padding: 3, maxRotation: 0, autoSkip: false},
            grid: {color: '#b0b0b0', lineWidth: 1.2, tickLength: 4, tickColor: '#000', tickWidth: 1.2},
            border: {display: false}},
        y: {type: 'linear', min: yTicks[0], max: yTicks[yTicks.length - 1],
            afterBuildTicks: s => { s.ticks = yTicks.map(v => ({value: v})); },
            afterFit: s => { s.width = 61; },
            ticks: {callback: yFmt, color: '#000', font, padding: 6, autoSkip: false},
            grid: {color: '#b0b0b0', lineWidth: 1.2, tickLength: 4, tickColor: '#000', tickWidth: 1.2},
            border: {display: false}}
      }
    },
    plugins: [framePlugin]
  });
}

function rateSets(blue, green, red, avgX, aB, aG, aR, bg, bgAvg, colors){
  const s = [line(avgX, aB, C.blue, true), line(avgX, aG, C.green, true), line(avgX, aR, C.red, true),
             line(X50, blue, C.blue), line(X50, green, C.green), line(X50, red, C.red)];
  bgAvg.forEach((a, i) => s.push(line(XAVG, a, colors[i], true)));
  bg.forEach((b, i) => s.push(line(X100, b, colors[i])));
  return s;
}
function lamSets(blue, green, red, orange, small){
  const s = [line(XLAM, blue, C.blue), line(XLAM, green, C.green), line(XLAM, red, C.red), line(XLAM, orange, C.orange)];
  small.forEach((b, i) => s.push(line(X100, b, SMALL_COLORS[i])));
  return s;
}

const fmtRate = v => v.toFixed(1);
const fmtLam = v => String(v);

makeChart('c1', rateSets(rateD_blue, rateD_green, rateD_red, avgD_mainX, avgD_blue, avgD_green, avgD_red, rateD_bg, rateD_bgAvg, BG_COLORS_D), RATE_TICKS, fmtRate, 11, 28);
makeChart('c2', lamSets(lamD_blue, lamD_green, lamD_red, lamD_orange, lamD_small), LAMBDA_TICKS, fmtLam, 11, 59);
makeChart('c3', rateSets(rateC_blue, rateC_green, rateC_red, avgC_mainX, avgC_blue, avgC_green, avgC_red, rateC_bg, rateC_bgAvg, BG_COLORS_C), RATE_TICKS, fmtRate, 12, 28);
makeChart('c4', lamSets(lamC_blue, lamC_green, lamC_red, lamC_orange, lamC_small), LAMBDA_TICKS, fmtLam, 11, 59);
</script>
</body></html>
